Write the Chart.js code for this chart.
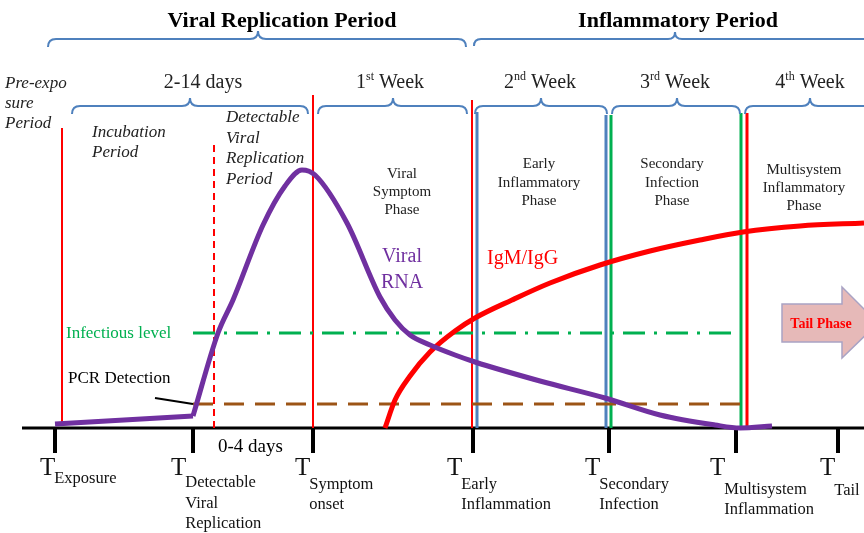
<!DOCTYPE html>
<html>
<head>
<meta charset="utf-8">
<script src="https://cdn.jsdelivr.net/npm/chart.js@4.4.0/dist/chart.umd.min.js"></script>
<style>
  body { margin: 0; background: #fff; }
  #wrap { width: 864px; height: 533px; position: relative; }
</style>
</head>
<body>
<div id="wrap"><canvas id="c"></canvas></div>
<script>
// x = time position along the figure, y = level above the baseline
const tickX = [55, 193, 313, 473, 609, 736, 838];
const tickSub = [["Exposure"], ["Detectable", "Viral", "Replication"], ["Symptom", "onset"],
  ["Early", "Inflammation"], ["Secondary", "Infection"], ["Multisystem", "Inflammation"], ["Tail"]];

const lagX = [55, 193];
const lagY = [4, 12];
const viralX = [193, 218, 233, 263, 285, 302, 315, 347, 380, 395, 410, 430, 455, 475, 540, 605, 660, 715, 740, 772];
const viralY = [12, 95, 128, 203, 242, 258, 253, 205, 131, 108, 93, 83, 73, 66, 47, 30, 13, 3, 0, 2];

const igX = [385, 395, 410, 430, 455, 475, 512, 550, 600, 650, 700, 743, 800, 864];
const igY = [0, 28, 52, 76, 97, 110, 128, 145, 163, 177, 188, 196, 202, 205];

const infectiousLevel = 95;
const pcrLevel = 24;
const levelFrom = 193, levelTo = 740;

const vLineX = [62, 214, 313, 472, 477, 606, 611, 741, 747];
const vLineTop = [300, 288, 333, 328, 316, 313, 313, 315, 315];
const vLineBottom = [4, 0, 0, 0, 0, 0, 0, 0, 0];

const vStyle = [
  { c: "#ff0000", w: 2 }, { c: "#ff0000", w: 2, d: [7, 5] }, { c: "#ff0000", w: 2 },
  { c: "#ff0000", w: 2 }, { c: "#4f81bd", w: 3 }, { c: "#4f81bd", w: 3 },
  { c: "#00b050", w: 3 }, { c: "#00b050", w: 3 }, { c: "#ff0000", w: 3 }
];

const pts = (xs, ys) => xs.map((x, i) => ({ x: x, y: ys[i] }));

const datasets = [];
vLineX.forEach((x, i) => {
  datasets.push({
    data: [{ x: x, y: vLineBottom[i] }, { x: x, y: vLineTop[i] }],
    borderColor: vStyle[i].c, borderWidth: vStyle[i].w, borderDash: vStyle[i].d || [],
    order: 5
  });
});
datasets.push({
  data: [{ x: levelFrom, y: infectiousLevel }, { x: levelTo, y: infectiousLevel }],
  borderColor: "#00b050", borderWidth: 3, borderDash: [22, 9, 3, 9], order: 4
});
datasets.push({
  data: [{ x: levelFrom, y: pcrLevel }, { x: levelTo, y: pcrLevel }],
  borderColor: "#9c5416", borderWidth: 3, borderDash: [20, 11], order: 4
});
datasets.push({ data: pts(igX, igY), borderColor: "#ff0000", borderWidth: 5, cubicInterpolationMode: "monotone", order: 2 });
datasets.push({ data: pts(lagX, lagY), borderColor: "#7030a0", borderWidth: 5, tension: 0, order: 1 });
datasets.push({ data: pts(viralX, viralY), borderColor: "#7030a0", borderWidth: 5, cubicInterpolationMode: "monotone", order: 1 });

function brace(ctx, x1, x2, xm, y, h) {
  ctx.beginPath();
  ctx.moveTo(x1, y + h);
  ctx.quadraticCurveTo(x1, y, x1 + h, y);
  ctx.lineTo(xm - h, y);
  ctx.quadraticCurveTo(xm, y, xm, y - h);
  ctx.quadraticCurveTo(xm, y, xm + h, y);
  ctx.lineTo(x2 - h, y);
  ctx.quadraticCurveTo(x2, y, x2, y + h);
  ctx.stroke();
}

function supText(ctx, parts, cx, y, size) {
  let w = 0;
  parts.forEach(p => {
    ctx.font = (p[1] ? Math.round(size * 0.6) : size) + "px 'Liberation Serif'";
    w += ctx.measureText(p[0]).width;
  });
  let x = cx - w / 2;
  ctx.textAlign = "left";
  parts.forEach(p => {
    ctx.font = (p[1] ? Math.round(size * 0.6) : size) + "px 'Liberation Serif'";
    ctx.fillText(p[0], x, p[1] ? y - size * 0.4 : y);
    x += ctx.measureText(p[0]).width;
  });
}

function lines(ctx, arr, x, y0, step) {
  arr.forEach((t, i) => ctx.fillText(t, x, y0 + i * step));
}

const decor = {
  id: "decor",
  beforeDatasetsDraw(chart) {
    const ctx = chart.ctx;
    const sx = chart.scales.x, sy = chart.scales.y;
    const y0 = sy.getPixelForValue(0);
    ctx.save();
    // baseline + ticks
    ctx.strokeStyle = "#000";
    ctx.lineWidth = 3;
    ctx.beginPath();
    ctx.moveTo(22, y0);
    ctx.lineTo(864, y0);
    ctx.stroke();
    ctx.lineWidth = 4;
    tickX.forEach(t => {
      const px = sx.getPixelForValue(t);
      ctx.beginPath();
      ctx.moveTo(px, y0);
      ctx.lineTo(px, y0 + 25);
      ctx.stroke();
    });
    // tail phase arrow
    ctx.fillStyle = "#e6b9b8";
    ctx.strokeStyle = "#a9a3c4";
    ctx.lineWidth = 1.5;
    ctx.beginPath();
    ctx.moveTo(782, 304);
    ctx.lineTo(842, 304);
    ctx.lineTo(842, 287);
    ctx.lineTo(878, 323);
    ctx.lineTo(842, 358);
    ctx.lineTo(842, 342);
    ctx.lineTo(782, 342);
    ctx.closePath();
    ctx.fill();
    ctx.stroke();
    ctx.restore();
  },
  afterDatasetsDraw(chart) {
    const ctx = chart.ctx;
    const sx = chart.scales.x, sy = chart.scales.y;
    ctx.save();
    ctx.textBaseline = "alphabetic";
    ctx.fillStyle = "#000";

    // period titles
    ctx.font = "bold 22px 'Liberation Serif'";
    ctx.textAlign = "center";
    ctx.fillText("Viral Replication Period", 282, 27);
    ctx.fillText("Inflammatory Period", 678, 27);

    ctx.strokeStyle = "#4f81bd";
    ctx.lineWidth = 2;
    brace(ctx, 48, 466, 258, 39, 8);
    brace(ctx, 474, 880, 675, 39, 7);
    brace(ctx, 72, 308, 190, 106, 8);
    brace(ctx, 318, 467, 393, 106, 8);
    brace(ctx, 475, 607, 541, 106, 8);
    brace(ctx, 612, 740, 677, 106, 8);
    brace(ctx, 745, 880, 810, 106, 8);

    ctx.textAlign = "center";
    ctx.font = "20px 'Liberation Serif'";
    ctx.fillStyle = "#222";
    ctx.fillText("2-14 days", 203, 88);
    supText(ctx, [["1", false], ["st", true], [" Week", false]], 390, 88, 20);
    supText(ctx, [["2", false], ["nd", true], [" Week", false]], 540, 88, 20);
    supText(ctx, [["3", false], ["rd", true], [" Week", false]], 675, 88, 20);
    supText(ctx, [["4", false], ["th", true], [" Week", false]], 810, 88, 20);

    // italic period notes
    ctx.textAlign = "left";
    ctx.font = "italic 17px 'Liberation Serif'";
    ctx.fillStyle = "#222";
    lines(ctx, ["Pre-expo", "sure", "Period"], 5, 88, 20);
    lines(ctx, ["Incubation", "Period"], 92, 137, 20);
    lines(ctx, ["Detectable", "Viral", "Replication", "Period"], 226, 122, 20.5);

    // phase boxes
    ctx.textAlign = "center";
    ctx.font = "15px 'Liberation Serif'";
    ctx.fillStyle = "#222";
    lines(ctx, ["Viral", "Symptom", "Phase"], 402, 178, 18);
    lines(ctx, ["Early", "Inflammatory", "Phase"], 539, 168, 18.5);
    lines(ctx, ["Secondary", "Infection", "Phase"], 672, 168, 18.5);
    lines(ctx, ["Multisystem", "Inflammatory", "Phase"], 804, 174, 18);

    // series labels
    ctx.font = "20px 'Liberation Serif'";
    ctx.fillStyle = "#7030a0";
    lines(ctx, ["Viral", "RNA"], 402, 262, 26);
    ctx.fillStyle = "#ff0000";
    ctx.textAlign = "left";
    ctx.fillText("IgM/IgG", 487, 264);

    ctx.font = "17px 'Liberation Serif'";
    ctx.fillStyle = "#00b050";
    ctx.fillText("Infectious level", 66, sy.getPixelForValue(infectiousLevel) + 5);
    ctx.fillStyle = "#000";
    ctx.fillText("PCR Detection", 68, 383);
    ctx.strokeStyle = "#000";
    ctx.lineWidth = 2;
    ctx.beginPath();
    ctx.moveTo(155, 398);
    ctx.lineTo(sx.getPixelForValue(levelFrom), sy.getPixelForValue(pcrLevel));
    ctx.stroke();

    ctx.font = "19px 'Liberation Serif'";
    ctx.fillText("0-4 days", 218, 452);

    ctx.font = "bold 14px 'Liberation Serif'";
    ctx.fillStyle = "#ff0000";
    ctx.textAlign = "center";
    ctx.fillText("Tail Phase", 821, 328);

    // time point labels
    const tOff = [15, 22, 18, 26, 24, 26, 18];
    const subY = [483, 487, 489, 489, 489, 494, 495];
    ctx.fillStyle = "#111";
    tickX.forEach((t, i) => {
      const px = sx.getPixelForValue(t) - tOff[i];
      ctx.textAlign = "left";
      ctx.font = "25px 'Liberation Serif'";
      ctx.fillText("T", px, 475);
      const w = ctx.measureText("T").width;
      ctx.font = "16.5px 'Liberation Serif'";
      lines(ctx, tickSub[i], px + w - 1, subY[i], i === 1 ? 20.5 : 20);
    });
    ctx.restore();
  }
};

new Chart(document.getElementById("c"), {
  type: "line",
  data: { datasets: datasets },
  options: {
    responsive: true,
    maintainAspectRatio: false,
    animation: false,
    layout: { padding: 0 },
    elements: { point: { radius: 0 } },
    plugins: { legend: { display: false }, tooltip: { enabled: false } },
    scales: {
      x: { type: "linear", display: false, min: 0, max: 864 },
      y: { type: "linear", display: false, min: -105, max: 428 }
    }
  },
  plugins: [decor]
});
</script>
</body>
</html>
